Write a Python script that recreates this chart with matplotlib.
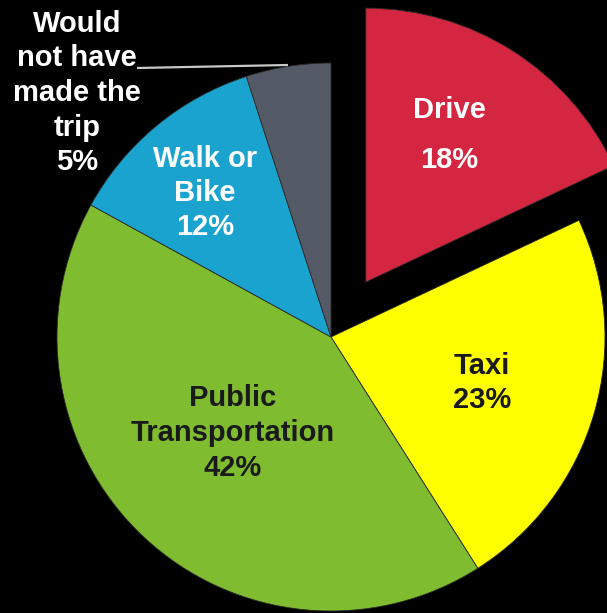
import matplotlib.pyplot as plt

# How people would have made the trip otherwise
modes = ["Drive", "Taxi", "Public\nTransportation", "Walk or\nBike", "Would\nnot have\nmade the\ntrip"]
shares = [18, 23, 42, 12, 5]
colors = ["#D42640", "#FFFF00", "#80BC30", "#1BA3CF", "#545B66"]
text_colors = ["white", "#1a1a1a", "#1a1a1a", "white", "white"]

# Layout in pixel-like data units (y up)
W, H = 607, 613
cx, cy = 331, 276
R = 274
explode = [65, 0, 0, 0, 0]

# label centres and line spacing
label_pos = [(449, 478), (482, 230), (233, 180), (205, 420), (77, 520)]
label_spacing = [2.0, 1.3, 1.3, 1.26, 1.3]

plt.rcParams["font.family"] = ["Liberation Sans", "DejaVu Sans"]

fig = plt.figure(figsize=(W / 100, H / 100), dpi=100, facecolor="black")
ax = fig.add_axes([0, 0, 1, 1])
ax.set_facecolor("black")

wedges, _ = ax.pie(shares, colors=colors, startangle=90, counterclock=False,
                   center=(cx, cy), radius=R, explode=explode,
                   wedgeprops=dict(edgecolor="#2a2a2a", linewidth=0.6))

for name, val, (x, y), tc, ls in zip(modes, shares, label_pos, text_colors, label_spacing):
    ax.text(x, y, f"{name}\n{val}%", ha="center", va="center", color=tc,
            fontsize=21, fontweight="bold", linespacing=ls)

# leader line for the small slice
ax.plot([137, 288], [545, 548], color="#c8c8c8", lw=1.6, solid_capstyle="butt")

ax.set_xlim(0, W)
ax.set_ylim(0, H)
ax.set_aspect("equal")
ax.axis("off")

fig.savefig("out.png", dpi=100, facecolor="black")
